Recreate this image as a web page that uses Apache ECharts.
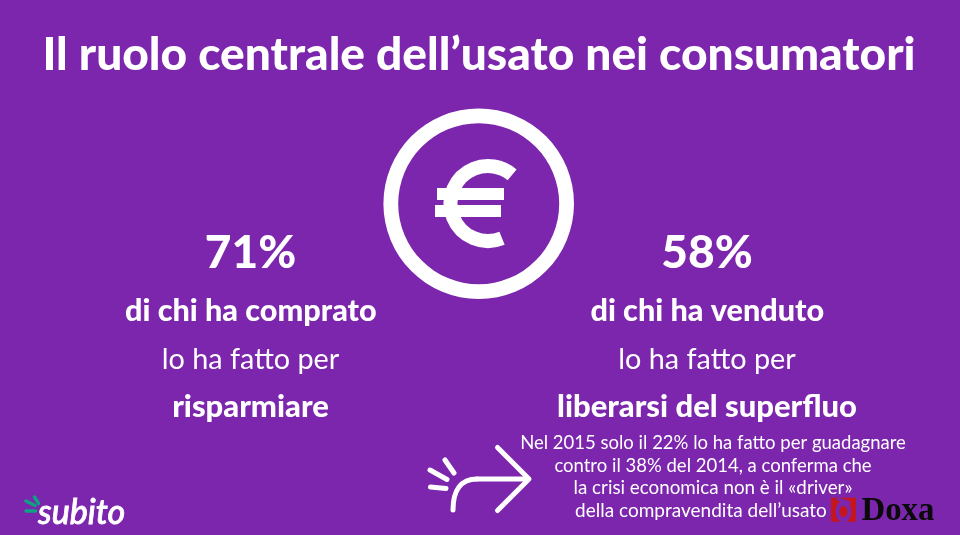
<!DOCTYPE html>
<html><head><meta charset="utf-8">
<script src="https://cdn.jsdelivr.net/npm/echarts@6/dist/echarts.min.js"></script>
<style>html,body{margin:0;padding:0;background:#7C25AD}#c{width:960px;height:535px}</style>
</head><body><div id="c"></div>
<script>
const titleText = "Il ruolo centrale dell’usato nei consumatori";
const headline = [71, 58];
const boldLine1 = ["di chi ha comprato", "di chi ha venduto"];
const plainLine = ["lo ha fatto per", "lo ha fatto per"];
const boldLine2 = ["risparmiare", "liberarsi del superfluo"];
const noteLines = ["Nel 2015 solo il 22% lo ha fatto per guadagnare","contro il 38% del 2014, a conferma che","la crisi economica non è il «driver»","della compravendita dell’usato"];
const F = "Lato";
const W = "#ffffff";
const BG = "#7C25AD";
function t(x,base,text,size,weight,align,font,fill){
  return {type:'text',x:x,y:base,style:{text:text,fill:fill||W,font:(weight||'normal')+' '+size+'px '+(font||F),align:align||'center',verticalAlign:'bottom',lineHeight:size,padding:[0,0,-0.22*size,0]}};
}
function seg(x1,y1,x2,y2,c,w){return {type:'line',shape:{x1,y1,x2,y2},style:{stroke:c||W,lineWidth:w||5,lineCap:'round'}};}
const cols=[250.5,707];
const els=[];
els.push(t(479,68,titleText,46.1,'900'));
els.push({type:'ring',shape:{cx:478.7,cy:203.7,r:95.3,r0:80.5},style:{fill:W}});
els.push({type:'arc',shape:{cx:488,cy:203.5,r:37.5,startAngle:68*Math.PI/180,endAngle:310*Math.PI/180,clockwise:true},style:{fill:'none',stroke:W,lineWidth:14}});
els.push({type:'rect',shape:{x:437,y:188,width:67,height:12},style:{fill:W}});
els.push({type:'rect',shape:{x:435,y:205,width:66,height:12},style:{fill:W}});
cols.forEach((x,i)=>{
  els.push(t(x,266.5,headline[i]+"%",46,'900'));
  els.push(t(x+0.3,320,boldLine1[i],30.6,'900'));
  els.push(t(x,367.5,plainLine[i],28.8,'normal'));
  els.push(t(x,416,boldLine2[i],31,'900'));
});
const noteX=[713,713,713,701], noteY=[448,471.5,493.5,516.5], noteS=[18.5,18.5,18.8,19];
noteLines.forEach((s,i)=>els.push(t(noteX[i],noteY[i],s,noteS[i],'normal')));
// arrow
els.push({type:'polyline',shape:{points:[[497.5,447.5],[529,479],[497.5,510.5]]},style:{fill:'none',stroke:W,lineWidth:5,lineCap:'round',lineJoin:'round'}});
els.push({type:'bezierCurve',shape:{x1:453,y1:510,cpx1:453,cpy1:490,cpx2:461,cpy2:479,x2:477,y2:479},style:{fill:'none',stroke:W,lineWidth:5,lineCap:'round'}});
els.push(seg(477,479,528,479));
els.push(seg(445,460,454,473));
els.push(seg(430,470,447,479.5));
els.push(seg(430.5,487,446,488.5));
// subito logo
const logo=t(38,522,"subito",33,'400','left');
logo.style.font='italic 500 34px "Lato"';
logo.style.stroke=W; logo.style.lineWidth=0.8;
els.push(logo);
els.push(seg(26,501,35,505.5,'#0FA184',3.5));
els.push(seg(34.5,497,38.5,503.5,'#0FA184',3.5));
els.push(seg(26,511,35.5,511,'#0FA184',3.5));
// doxa logo
els.push({type:'rect',shape:{x:831,y:497.7,width:25,height:24},style:{fill:'#C4161C'}});
els.push({type:'ring',originX:843.5,originY:511.5,scaleX:0.72,shape:{cx:843.5,cy:511.5,r:11,r0:5.5},style:{fill:BG}});
els.push(seg(838,499,849,502.5,BG,3));
els.push(t(861.5,521,"Doxa",32.8,'bold','left','"Liberation Serif"','#0A0A0A'));
const chart=echarts.init(document.getElementById('c'),null,{renderer:'canvas'});
chart.setOption({backgroundColor:BG,animation:false,graphic:{elements:els}});
</script></body></html>
